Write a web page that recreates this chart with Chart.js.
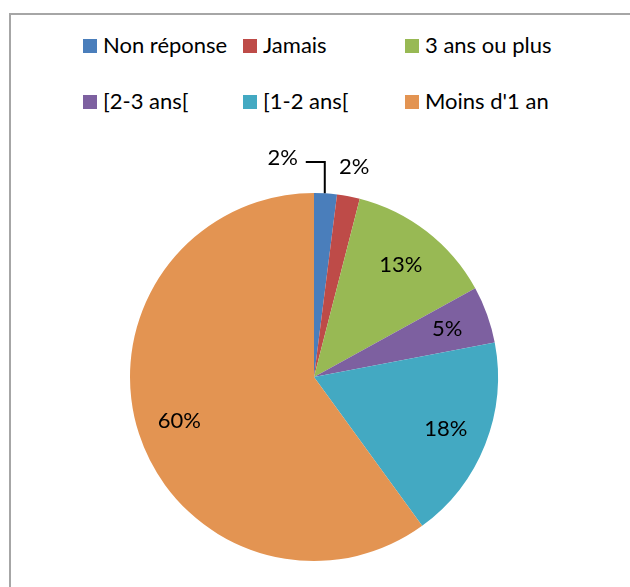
<!DOCTYPE html>
<html>
<head>
<meta charset="utf-8">
<script src="https://cdn.jsdelivr.net/npm/chart.js@4"></script>
<style>
  body { margin: 0; width: 630px; height: 587px; overflow: hidden; background: #fff; font-family: Lato, "Open Sans", sans-serif; }
  #frame { position: absolute; left: 9px; top: 13px; width: 700px; height: 700px; border-top: 2px solid #a6a6a6; border-left: 2px solid #a6a6a6; }
  #legend { position: absolute; left: 83px; top: 31px; display: grid; grid-template-columns: 160px 162px auto; row-gap: 28px; }
  .item { display: flex; align-items: flex-end; font-size: 22px; line-height: 28px; color: #000; white-space: nowrap; }
  .box { width: 14px; height: 14px; margin: 0 6px 6px 0; flex: none; }
  #wrap { position: absolute; left: 0; top: 0; width: 630px; height: 587px; }
</style>
</head>
<body>
<div id="frame"></div>
<div id="legend"></div>
<div id="wrap"><canvas id="pie"></canvas></div>
<script>
// categories and values (percent)
var categories = ["Non réponse", "Jamais", "3 ans ou plus", "[2-3 ans[", "[1-2 ans[", "Moins d'1 an"];
var values = [2, 2, 13, 5, 18, 60];
var colors = ["#4a7ebb", "#be4b48", "#98b954", "#7d60a0", "#43a9c2", "#e39452"];

// html legend, 3 columns like the original
var legend = document.getElementById("legend");
categories.forEach(function(c, i) {
    var d = document.createElement("div");
    d.className = "item";
    d.innerHTML = '<span class="box" style="background:' + colors[i] + '"></span>' + c;
    legend.appendChild(d);
});

// draws the % labels, the first one with a leader line
var pctLabels = {
    id: "pctLabels",
    afterDatasetsDraw: function(chart) {
        var ctx = chart.ctx;
        var arcs = chart.getDatasetMeta(0).data;
        ctx.save();
        ctx.font = "22px Lato, 'Open Sans', sans-serif";
        ctx.fillStyle = "#000";
        ctx.textBaseline = "middle";
        arcs.forEach(function(a, i) {
            var mid = (a.startAngle + a.endAngle) / 2;
            var r = a.outerRadius;
            var txt = values[i] + "%";
            if (i === 0) {
                var px = a.x + Math.cos(mid) * r * 0.5;
                var py = a.y + Math.sin(mid) * r;
                var ty = a.y - r - 31;
                ctx.strokeStyle = "#000";
                ctx.lineWidth = 2;
                ctx.beginPath();
                ctx.moveTo(px + 5, py);
                ctx.lineTo(px + 5, ty);
                ctx.lineTo(px - 14, ty);
                ctx.stroke();
                ctx.textAlign = "right";
                ctx.fillText(txt, px - 22, ty - 4);
            } else if (i === 1) {
                ctx.textAlign = "center";
                ctx.fillText(txt, a.x + Math.cos(mid) * (r + 30), a.y + Math.sin(mid) * (r + 30));
            } else {
                ctx.textAlign = "center";
                ctx.fillText(txt, a.x + Math.cos(mid) * r * 0.77, a.y + Math.sin(mid) * r * 0.77);
            }
        });
        ctx.restore();
    }
};

var ctxPie = document.getElementById("pie").getContext("2d");
var chartPie = new Chart(ctxPie, {
    type: "pie",
    data: {
        labels: categories,
        datasets: [{
            data: values,
            backgroundColor: colors,
            borderWidth: 0
        }]
    },
    options: {
        responsive: true,
        maintainAspectRatio: false,
        animation: false,
        layout: { padding: { top: 193, bottom: 26, left: 130, right: 132 } },
        plugins: {
            legend: { display: false },
            tooltip: { enabled: false }
        }
    },
    plugins: [pctLabels]
});
</script>
</body>
</html>
